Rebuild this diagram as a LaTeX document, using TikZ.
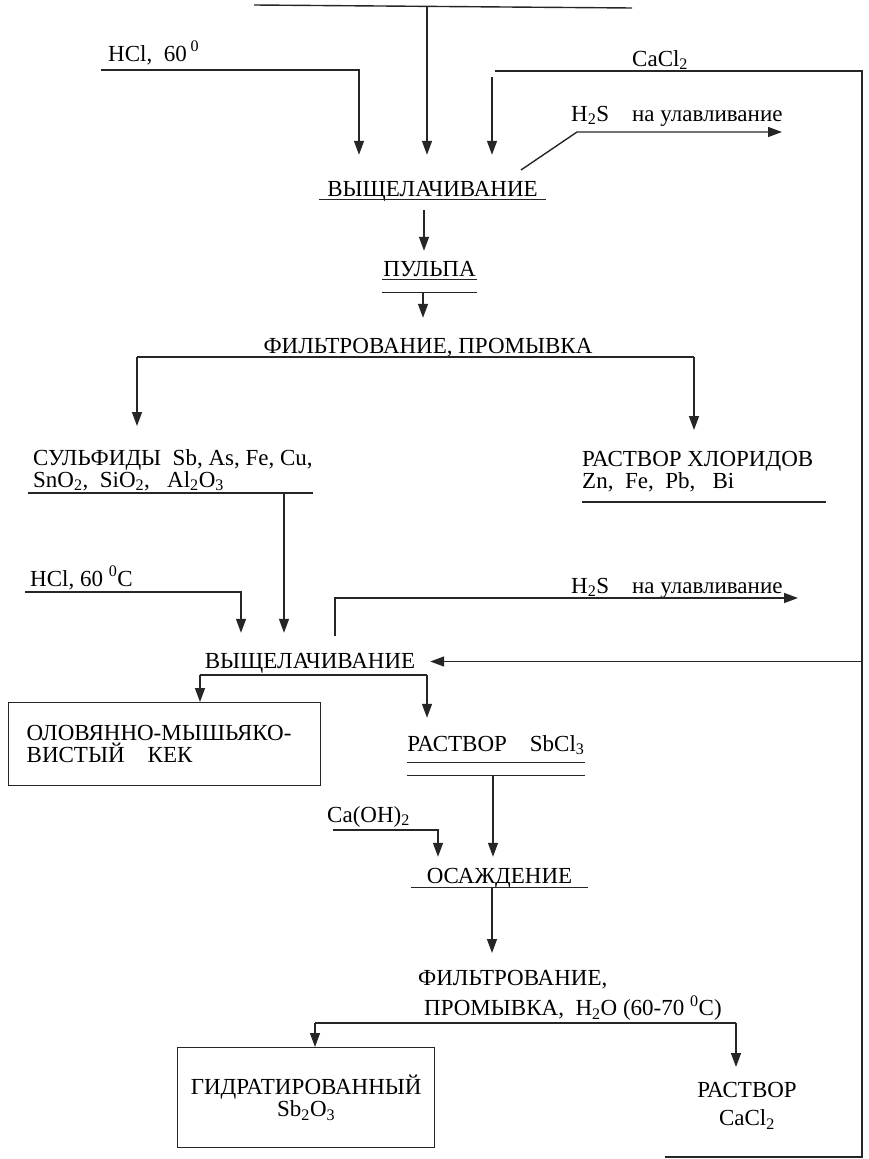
\documentclass[tikz,border=0pt]{standalone}
\usepackage{fontspec}
\setmainfont{Liberation Serif}
\usetikzlibrary{positioning,arrows.meta}

\begin{document}
\begin{tikzpicture}[
    x=1pt, y=-1pt,
    font=\fontsize{23}{22}\selectfont,
    every node/.style={inner sep=0pt},
    line/.style={draw=black!85, line width=1.4pt},
    arrow/.style={line, -{Triangle[width=10pt,length=14pt]}},
    ttl/.style={text height=16pt, text depth=3pt},
    txt/.style={align=left},
    box/.style={line, draw, inner xsep=18pt}
  ]
    \useasboundingbox (0,0) rectangle (869,1159);

    % first leaching
    \coordinate (feedL) at (254,5);
    \coordinate (feedR) at (632,8);
    \coordinate (feedM) at (427,6);
    \coordinate (hclS) at (101,70);
    \coordinate (hclT) at (359,70);
    \coordinate (caclS) at (495,71);
    \coordinate (caclD) at (492,77);
    \coordinate (ret1) at (862,71);
    \coordinate (gas1S) at (521,170);
    \coordinate (gas1K) at (577,132);
    \coordinate (gas1E) at (782,132);
    \coordinate (leachD) at (424,199);
    \coordinate (pulpD) at (423,292);
    \coordinate (brA1) at (137,357);
    \coordinate (brA2) at (694,357);

    \node[anchor=base west] (hclA) at (108,61) {HCl,\ \ 60\,\textsuperscript{0}};
    \node[anchor=base west] (caclA) at (632,66) {CaCl\textsubscript{2}};
    \node[anchor=base west] (gasA) at (571,121) {H\textsubscript{2}S\quad на улавливание};
    \node[ttl, minimum width=227, anchor=base] (leachA) at (432.5,196) {ВЫЩЕЛАЧИВАНИЕ};
    \node[ttl, minimum width=95, anchor=base] (pulp) at (429.5,276) {ПУЛЬПА};
    \node[ttl, anchor=base] (filtA) at (428,353) {ФИЛЬТРОВАНИЕ, ПРОМЫВКА};
    \node[txt, anchor=north west] (sulf) at (33,449) {СУЛЬФИДЫ\ \ Sb, As, Fe, Cu,\\SnO\textsubscript{2},\ \ SiO\textsubscript{2},\ \ \ Al\textsubscript{2}O\textsubscript{3}};
    \node[txt, anchor=north west] (chlor) at (582,451) {РАСТВОР ХЛОРИДОВ\\Zn,\ \ Fe,\ \ Pb,\ \ \ Bi};

    \draw[line] (feedL) -- (feedR);
    \draw[arrow, shorten >=25pt] (feedM) -- (feedM |- leachA.north);
    \draw[arrow, shorten >=25pt] (hclS) -- (hclT) -- (hclT |- leachA.north);
    \draw[arrow, shorten >=25pt] (caclD) -- (caclD |- leachA.north);
    \draw[arrow] (gas1S) -- (gas1K) -- (gas1E);
    \draw[line] (leachA.south west) -- (leachA.south east);
    \draw[arrow, shorten <=11pt, shorten >=9pt] (leachD) -- (leachD |- pulp.north);
    \draw[line] (pulp.south west) -- (pulp.south east);
    \draw[line] ([yshift=-13pt]pulp.south west) -- ([yshift=-13pt]pulp.south east);
    \draw[arrow, shorten >=19pt] (pulpD) -- (pulpD |- filtA.north);
    \draw[line] (brA1) -- (brA2);
    \draw[arrow, shorten >=23pt] (brA1) -- (brA1 |- sulf.north);
    \draw[arrow, shorten >=21pt] (brA2) -- (brA2 |- chlor.north);

    % second leaching
    \coordinate (sulfL) at (28,493);
    \coordinate (sulfR) at (313,493);
    \coordinate (sulfD) at (284,493);
    \coordinate (chlL) at (582,502);
    \coordinate (chlR) at (826,502);
    \coordinate (hcl2S) at (25,592);
    \coordinate (hcl2T) at (241,592);
    \coordinate (gas2S) at (335,636);
    \coordinate (gas2K) at (335,598);
    \coordinate (gas2E) at (798,598);
    \coordinate (brB1) at (200,675);
    \coordinate (brB2) at (427,675);
    \coordinate (sbclD) at (493,775);
    \coordinate (caohS) at (333,830);
    \coordinate (caohT) at (438,830);
    \coordinate (osD) at (492,887);
    \coordinate (brC1) at (315,1023);
    \coordinate (brC2) at (736,1023);
    \coordinate (retB) at (665,1157);
    \coordinate (retC) at (862,1157);

    \node[anchor=base west] (hclB) at (30,586) {HCl, 60 \textsuperscript{0}C};
    \node[anchor=base west] (gasB) at (571,593) {H\textsubscript{2}S\quad на улавливание};
    \node[ttl, minimum width=240, anchor=base] (leachB) at (310,668) {ВЫЩЕЛАЧИВАНИЕ};
    \node[box, anchor=north west, minimum width=312, minimum height=83, text width=276, align=left] (kek) at (8,702) {ОЛОВЯННО-МЫШЬЯКО-\\ВИСТЫЙ\ \ \ КЕК};
    \node[ttl, minimum width=162, anchor=base, text depth=11pt] (sbcl) at (496,751) {РАСТВОР\quad SbCl\textsubscript{3}};
    \node[anchor=base west] (caoh) at (327,822) {Ca(OH)\textsubscript{2}};
    \node[ttl, minimum width=177, anchor=base, text depth=4pt] (osazh) at (499.5,883) {ОСАЖДЕНИЕ};
    \node[txt, anchor=north west] (filtB) at (418,970) {ФИЛЬТРОВАНИЕ,\\[6pt]\hspace*{6pt}ПРОМЫВКА,\ \ H\textsubscript{2}O (60-70 \textsuperscript{0}C)};
    \node[box, inner xsep=6pt, anchor=north west, minimum width=257, minimum height=100, align=center] (sbox) at (177,1047) {ГИДРАТИРОВАННЫЙ\\Sb\textsubscript{2}O\textsubscript{3}};
    \node[txt, align=center, anchor=north] (solB) at (747,1082) {РАСТВОР\\[6pt]CaCl\textsubscript{2}};

    \draw[line] (sulfL) -- (sulfR);
    \draw[line] (chlL) -- (chlR);
    \draw[arrow, shorten >=19pt] (sulfD) -- (sulfD |- leachB.north);
    \draw[arrow, shorten >=19pt] (hcl2S) -- (hcl2T) -- (hcl2T |- leachB.north);
    \draw[arrow] (gas2S) -- (gas2K) -- (gas2E);
    \draw[arrow] (ret1 |- leachB.east) -- (leachB.east);
    \draw[line] (brB1) -- (brB2);
    \draw[arrow] (brB1) -- (brB1 |- kek.north);
    \draw[arrow, shorten >=17pt] (brB2) -- (brB2 |- sbcl.north);
    \draw[line] (sbcl.south west) -- (sbcl.south east);
    \draw[line] ([yshift=-13pt]sbcl.south west) -- ([yshift=-13pt]sbcl.south east);
    \draw[arrow, shorten >=10pt] (sbclD) -- (sbclD |- osazh.north);
    \draw[arrow, shorten >=10pt] (caohS) -- (caohT) -- (caohT |- osazh.north);
    \draw[line] (osazh.south west) -- (osazh.south east);
    \draw[arrow, shorten >=17pt] (osD) -- (osD |- filtB.north);
    \draw[line] (brC1) -- (brC2);
    \draw[arrow] (brC1) -- (brC1 |- sbox.north);
    \draw[arrow, shorten >=15pt] (brC2) -- (brC2 |- solB.north);
    \draw[line] (caclS) -- (ret1) -- (retC) -- (retB);
  \end{tikzpicture}
\end{document}
